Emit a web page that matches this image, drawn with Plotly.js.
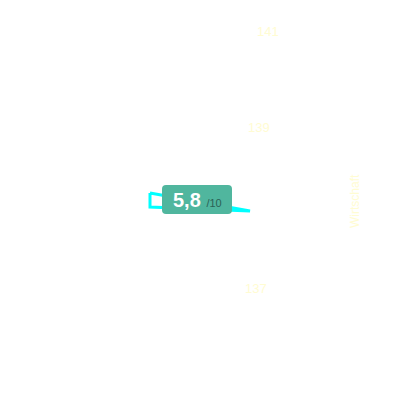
<!DOCTYPE html>
<html>
<head>
<meta charset="utf-8">
<script src="https://cdn.plot.ly/plotly-3.0.1.min.js"></script>
<style>
  html, body { margin: 0; padding: 0; background: #fff; }
  #chart { width: 400px; height: 400px; }
</style>
</head>
<body>
<div id="chart"></div>
<script>
// Score outline + faint axis labels.
const shapeX = [-1.25, 1.25, -1.25, -1.25];
const shapeY = [0.175, -0.275, -0.175, 0.175];
const tickLabels = ["141", "139", "137"];
const axisTitle = "Wirtschaft";
const score = "5,8";
const scoreMax = "/10";

const FAINT = "#fffcd2";
const TEAL = "#50b69e";

const trace = {
  type: "scatter", mode: "lines",
  x: shapeX, y: shapeY,
  line: { color: "#00ffff", width: 3, shape: "linear" },
  hoverinfo: "skip", showlegend: false,
};

// tick labels sit on a slanted axis, so they're placed by hand
const tickPos = [[268, 32], [259, 127], [256, 288]];
const annotations = tickLabels.map((t, i) => ({
  text: t, showarrow: false,
  xref: "paper", yref: "paper", xanchor: "center", yanchor: "middle",
  x: tickPos[i][0] / 400, y: 1 - tickPos[i][1] / 400,
  font: { family: "Liberation Sans, Arial, sans-serif", size: 13, color: FAINT },
}));
annotations.push({
  text: axisTitle, showarrow: false, textangle: -90,
  xref: "paper", yref: "paper", xanchor: "center", yanchor: "middle",
  x: 355 / 400, y: 1 - 201 / 400,
  font: { family: "Liberation Sans, Arial, sans-serif", size: 12, color: FAINT },
});
annotations.push({
  text: `<b>${score}</b> <span style="font-size:11px;color:#2b6256">${scoreMax}</span>`,
  showarrow: false, xref: "paper", yref: "paper", xanchor: "center", yanchor: "middle",
  x: 197 / 400, y: 1 - 200 / 400,
  font: { family: "Liberation Sans, Arial, sans-serif", size: 20, color: "#ffffff" },
});

// rounded badge behind the score
const bx0 = 162 / 400, bx1 = 232 / 400, by0 = 1 - 214 / 400, by1 = 1 - 185 / 400;
const r = 4 / 400;
const badge = {
  type: "path", xref: "paper", yref: "paper", layer: "above",
  path: `M ${bx0 + r} ${by0} L ${bx1 - r} ${by0} Q ${bx1} ${by0} ${bx1} ${by0 + r}
         L ${bx1} ${by1 - r} Q ${bx1} ${by1} ${bx1 - r} ${by1}
         L ${bx0 + r} ${by1} Q ${bx0} ${by1} ${bx0} ${by1 - r}
         L ${bx0} ${by0 + r} Q ${bx0} ${by0} ${bx0 + r} ${by0} Z`,
  fillcolor: TEAL, line: { width: 0 },
};

const hidden = { visible: false, range: [-5, 5], fixedrange: true };
const layout = {
  width: 400, height: 400,
  margin: { l: 0, r: 0, t: 0, b: 0 },
  paper_bgcolor: "#ffffff", plot_bgcolor: "#ffffff",
  xaxis: { ...hidden },
  yaxis: { ...hidden },
  shapes: [badge],
  annotations,
  showlegend: false,
};

Plotly.newPlot("chart", [trace], layout, { displayModeBar: false, staticPlot: true });
</script>
</body>
</html>
